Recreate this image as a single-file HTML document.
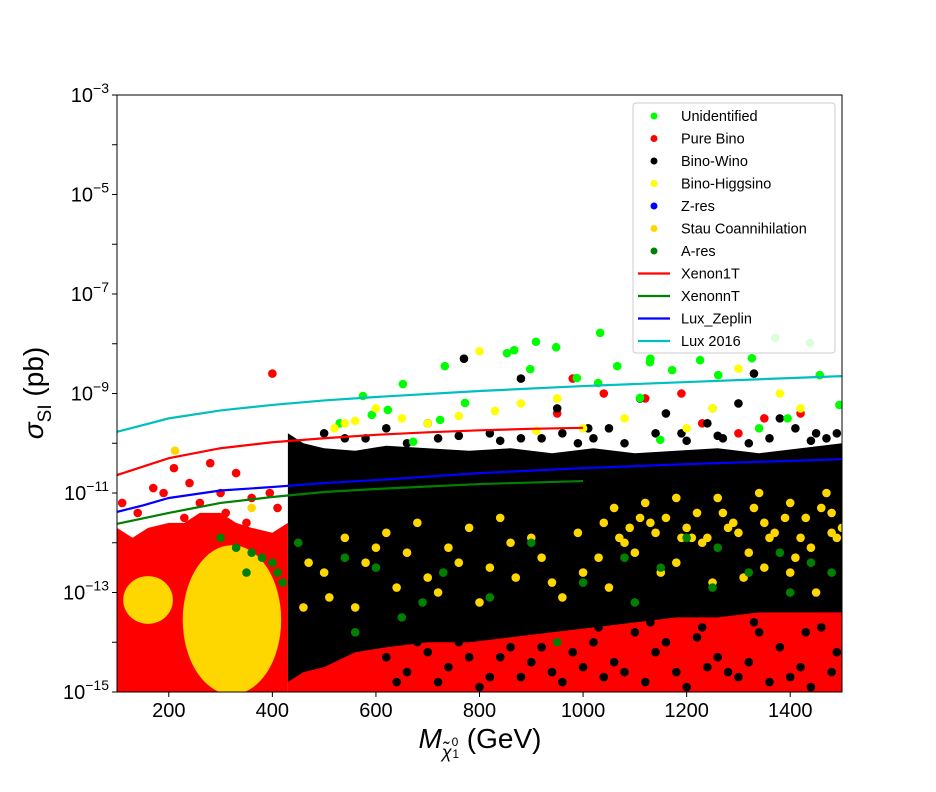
<!DOCTYPE html>
<html><head><meta charset="utf-8"><style>
body{margin:0;background:#fff;font-family:"Liberation Sans",sans-serif}
#wrap{position:relative;width:936px;height:792px;overflow:hidden}
</style></head><body>
<div id="wrap">
<svg id="svg" width="936" height="792" xmlns="http://www.w3.org/2000/svg"></svg>
</div>
<script>
// ---- data ----
const xTicks=[200,400,600,800,1000,1200,1400];
const yTickExps=[-3,-5,-7,-9,-11,-13,-15];
const xenon1tX=[100,200,300,400,500,600,700,800,900,1000];
const xenon1tY=[-10.64,-10.3,-10.1,-9.98,-9.9,-9.83,-9.78,-9.74,-9.71,-9.69];
const xenonnTX=[100,200,300,400,500,600,700,800,900,1000];
const xenonnTY=[-11.62,-11.4,-11.2,-11.08,-10.98,-10.92,-10.87,-10.82,-10.79,-10.76];
const luxZX=[100,150,200,300,400,500,600,800,1000,1200,1500];
const luxZY=[-11.38,-11.25,-11.1,-10.95,-10.88,-10.8,-10.74,-10.6,-10.5,-10.42,-10.32];
const lux16X=[100,200,300,400,500,600,800,1000,1200,1500];
const lux16Y=[-9.77,-9.5,-9.34,-9.23,-9.14,-9.07,-8.95,-8.85,-8.77,-8.65];
// dense regions (boundaries)
const redLeftX=[100,130,160,200,230,260,300,330,360,400,430];
const redLeftTop=[-11.7,-11.9,-11.7,-11.6,-11.6,-11.4,-11.4,-11.6,-11.7,-11.8,-11.6];
const redBottomX=[430,500,600,700,800,900,1000,1100,1200,1300,1400,1500];
const redBottomTop=[-14.4,-14.2,-13.9,-13.8,-13.7,-13.6,-13.5,-13.4,-13.3,-13.3,-13.2,-13.2];
const blackX=[430,460,500,560,620,700,780,860,940,1020,1100,1180,1260,1340,1420,1500];
const blackTop=[-9.8,-10.0,-10.1,-10.15,-10.05,-10.1,-10.15,-10.1,-10.2,-10.1,-10.2,-10.15,-10.1,-10.2,-10.1,-10.0];
const blackBottom=[-14.8,-14.6,-14.5,-14.2,-14.1,-14.0,-14.0,-13.9,-13.8,-13.7,-13.6,-13.5,-13.5,-13.4,-13.4,-13.4];
// scattered points
const greenX=[575,909,1033,853,652,733,898,1029,1129,1172,1110,772,592,623,724,672,1066,948,867,988,1149,1226,1261,1326,1371,1438,1457,1495,530,1250,1340,1395,1130];
const greenY=[-9.05,-7.96,-7.78,-8.19,-8.81,-8.45,-8.51,-8.79,-8.37,-8.53,-9.09,-9.19,-9.43,-9.33,-9.53,-9.97,-8.45,-8.07,-8.13,-8.69,-9.93,-8.33,-8.63,-8.29,-7.88,-7.98,-8.63,-9.23,-9.6,-9.3,-9.7,-9.5,-8.3];
const yellowX=[800,650,880,560,600,520,700,760,950,1000,1080,1250,1300,1420,1200,540,910,830,1380];
const yellowY=[-8.15,-9.5,-9.2,-9.55,-9.3,-9.7,-9.6,-9.45,-9.1,-9.7,-9.5,-9.3,-8.5,-9.3,-9.7,-9.6,-9.75,-9.35,-9.0];
const blackOutX=[770,880,950,1010,1110,1160,1240,1300,1330,1380,1450,500,540,620,700,820,880,1050,1190,1270,1410,1470,660,580,990,1020,1080,1140,1200,1260,1320,1360,1440,1490,720,760,840,920,960];
const blackOutY=[-8.3,-8.7,-9.3,-9.7,-9.1,-9.4,-9.6,-9.2,-8.6,-9.5,-9.8,-9.8,-9.9,-9.7,-9.6,-9.8,-9.9,-9.7,-9.8,-9.9,-9.7,-9.9,-10.0,-9.9,-10.0,-9.9,-10.0,-9.8,-9.95,-9.85,-10.0,-9.9,-9.95,-9.8,-9.9,-9.85,-9.95,-9.9,-9.8];
const redOutX=[400,210,280,330,170,240,300,360,395,980,1040,1120,1190,1230,1300,1350,1420,950,110,140,190,260,230,310,350,410];
const redOutY=[-8.6,-10.5,-10.4,-10.6,-10.9,-10.8,-11.0,-11.1,-11.0,-8.7,-9.0,-9.1,-9.0,-9.6,-9.8,-9.5,-9.4,-9.4,-11.2,-11.4,-11.0,-11.2,-11.5,-11.4,-11.6,-11.3];
const goldX=[212,360,500,540,580,620,660,700,740,780,820,860,900,940,990,1030,1080,1130,1180,1230,1280,1320,1360,1400,1440,1480,510,560,640,720,800,870,960,1050,1150,1250,1350,1450,470,600,680,760,840,920,1000,1100,1210,1310,1410,460,
 1060,1090,1120,1160,1190,1220,1260,1290,1330,1370,1400,1430,1470,1500,1070,1110,1140,1180,1240,1270,1300,1350,1390,1420,1460,1490,1040,1200,1340,1480];
const goldY=[-10.15,-11.3,-12.6,-11.9,-12.4,-11.8,-12.2,-12.7,-12.1,-11.7,-12.5,-12.0,-11.9,-12.8,-11.8,-12.3,-12.0,-11.6,-12.4,-12.0,-11.7,-12.2,-11.9,-12.6,-12.1,-11.8,-13.1,-13.3,-12.9,-13.0,-13.2,-12.7,-13.1,-12.9,-12.6,-12.8,-12.5,-13.0,-12.4,-12.1,-11.6,-12.4,-11.5,-12.3,-12.6,-12.2,-11.9,-12.7,-12.3,-13.3,
 -11.3,-11.7,-11.2,-11.5,-11.9,-11.4,-11.1,-11.6,-11.3,-11.8,-11.2,-11.5,-11.0,-11.7,-11.9,-11.5,-11.8,-11.1,-11.9,-11.4,-11.8,-11.6,-11.5,-11.9,-11.3,-11.9,-11.6,-11.7,-11.0,-11.4];
const aresX=[300,330,360,380,400,410,420,350,450,540,600,690,730,900,1000,1080,1150,1200,1260,1320,1380,1440,560,650,820,1100,1250,1400,1480,950];
const aresY=[-11.9,-12.1,-12.2,-12.3,-12.4,-12.6,-12.8,-12.6,-12.0,-12.3,-12.5,-13.2,-12.6,-12.0,-12.8,-12.3,-12.5,-11.9,-12.1,-12.6,-12.2,-12.4,-13.8,-13.5,-13.1,-13.2,-12.9,-13.0,-12.6,-14.0];
const blackInRedX=[620,660,700,740,780,820,860,900,940,980,1020,1060,1100,1140,1180,1220,1260,1300,1340,1380,1420,1460,1490,640,720,800,880,960,1040,1120,1200,1280,1360,1440,680,760,840,920,1000,1080,1160,1240,1320,1400,1480,1030,1130,1230,1330,1430];
const blackInRedY=[-14.3,-14.6,-14.2,-14.5,-14.3,-14.7,-14.1,-14.4,-14.6,-14.2,-14.0,-14.4,-13.8,-14.2,-14.6,-13.9,-14.3,-14.7,-13.8,-14.1,-14.5,-13.7,-14.2,-14.8,-14.8,-14.9,-14.7,-14.8,-14.7,-14.8,-14.9,-14.6,-14.8,-14.9,-14.0,-14.0,-14.3,-14.1,-14.5,-14.6,-14.0,-14.5,-14.4,-14.7,-14.6,-13.7,-13.6,-13.7,-13.6,-13.8];
const goldBlob={cx:322,cy:-13.55,rx:95,ry:1.5};
const goldBlob2={cx:160,cy:-13.15,rx:48,ry:0.48};

// ---- scales ----
const L=117,R=842,T=95,B=692;
const X=v=>L+(v-100)/1400*(R-L);
const Y=l=>T+(-3-l)/12*(B-T);
const NS='http://www.w3.org/2000/svg';
const svg=document.getElementById('svg');
function mk(tag,attrs,parent){const e=document.createElementNS(NS,tag);for(const k in attrs)e.setAttribute(k,attrs[k]);(parent||svg).appendChild(e);return e;}

const defs=mk('defs',{});
const cp=mk('clipPath',{id:'cp'},defs);mk('rect',{x:L,y:T,width:R-L,height:B-T},cp);
const g=mk('g',{'clip-path':'url(#cp)'});



function poly(xs,tops,bots,fill,name){
  let pts=xs.map((x,i)=>X(x)+','+Y(tops[i]));
  if(bots) pts=pts.concat(xs.map((x,i)=>X(x)+','+Y(bots[i])).reverse());
  else pts.push(X(xs[xs.length-1])+','+(B+5),X(xs[0])+','+(B+5));
  const p=mk('polygon',{points:pts.join(' '),fill:fill},g);
  
  
}
poly(redLeftX,redLeftTop,null,'#ff0000','pure-bino-region');
poly(redBottomX,redBottomTop,null,'#ff0000','pure-bino-bottom-region');
poly(blackX,blackTop,blackBottom,'#000000','bino-wino-region');
[goldBlob,goldBlob2].forEach((b,i)=>{
  const e=mk('ellipse',{cx:X(b.cx),cy:Y(b.cy),rx:X(b.cx+b.rx)-X(b.cx),ry:Y(b.cy-b.ry)-Y(b.cy),fill:'#ffd700'},g);
  
  
});
function pts(xs,ys,col,name){
  xs.forEach((x,i)=>{
    const c=mk('circle',{cx:X(x),cy:Y(ys[i]),r:4.3,fill:col},g);
    
    
  });
}
pts(blackInRedX,blackInRedY,'#000','bino-wino-point');
pts(redOutX,redOutY,'#ff0000','pure-bino-point');
pts(blackOutX,blackOutY,'#000','bino-wino-point');
pts(greenX,greenY,'#00ff00','unidentified-point');
pts(yellowX,yellowY,'#ffff00','bino-higgsino-point');
pts(goldX,goldY,'#ffd700','stau-coannihilation-point');
pts(aresX,aresY,'#008000','a-res-point');

function line(xs,ys,col,name){
  const p=mk('polyline',{points:xs.map((x,i)=>X(x)+','+Y(ys[i])).join(' '),fill:'none',stroke:col,'stroke-width':2.2},g);
  
  
}
line(lux16X,lux16Y,'#00bfbf','lux-2016-line');
line(xenon1tX,xenon1tY,'#ff0000','xenon1t-line');
line(luxZX,luxZY,'#0000ff','lux-zeplin-line');
line(xenonnTX,xenonnTY,'#008000','xenonnt-line');

const fr=mk('rect',{x:L,y:T,width:R-L,height:B-T,fill:'none',stroke:'#000','stroke-width':1});


xTicks.forEach(v=>{
  mk('line',{x1:X(v),x2:X(v),y1:B,y2:B+5,stroke:'#000'});
  const t=mk('text',{x:X(v),y:B+25,'font-size':20,'text-anchor':'middle','font-family':'Liberation Sans, sans-serif'});
  t.textContent=v;
  
  
});
for(let e=-3;e>=-15;e--){mk('line',{x1:L-5,x2:L,y1:Y(e),y2:Y(e),stroke:'#000'});}
yTickExps.forEach(e=>{
  const t=mk('text',{x:L-8,y:Y(e)+7,'font-size':20,'text-anchor':'end','font-family':'Liberation Sans, sans-serif'});
  t.innerHTML='10<tspan dy="-9" font-size="14">\u2212'+(-e)+'</tspan>';
  
  
});
const xl=mk('text',{x:480,y:748,'font-size':28,'text-anchor':'middle','font-family':'Liberation Sans, sans-serif'});
xl.innerHTML='<tspan font-style="italic">M</tspan><tspan dy="10" font-size="18" font-style="italic">χ̃</tspan><tspan dy="-12" font-size="12">0</tspan><tspan dy="12" dx="-6" font-size="12">1</tspan><tspan dy="-10"> (GeV)</tspan>';


const yl=mk('text',{x:0,y:0,'font-size':28,'text-anchor':'middle','font-family':'Liberation Sans, sans-serif',transform:'translate(43,393) rotate(-90)'});
yl.innerHTML='<tspan font-style="italic">σ</tspan><tspan dy="8" font-size="19">SI</tspan><tspan dy="-8"> (pb)</tspan>';



const lg=mk('g',{});


mk('rect',{x:633,y:103,width:202,height:250,rx:3,fill:'#fff','fill-opacity':0.85,stroke:'#ccc'},lg);
const entries=[['Unidentified','#00ff00',0],['Pure Bino','#ff0000',0],['Bino-Wino','#000000',0],['Bino-Higgsino','#ffff00',0],['Z-res','#0000ff',0],['Stau Coannihilation','#ffd700',0],['A-res','#008000',0],['Xenon1T','#ff0000',1],['XenonnT','#008000',1],['Lux_Zeplin','#0000ff',1],['Lux 2016','#00bfbf',1]];
entries.forEach((en,i)=>{
  const y=116+i*22.5;
  const eg=mk('g',{},lg);
  
  
  if(en[2]) mk('line',{x1:638,x2:670,y1:y,y2:y,stroke:en[1],'stroke-width':2.2},eg);
  else mk('circle',{cx:654,cy:y,r:3.5,fill:en[1]},eg);
  const t=mk('text',{x:681,y:y+5,'font-size':14.5,'font-family':'Liberation Sans, sans-serif'},eg);
  t.textContent=en[0];
});
</script>
</body></html>
